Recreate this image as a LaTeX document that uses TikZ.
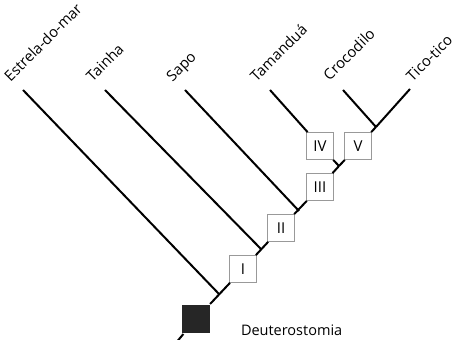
\documentclass[tikz,border=0pt]{standalone}
\usepackage{fontspec}
\setmainfont{Open Sans}
\usetikzlibrary{calc}

\begin{document}
\begin{tikzpicture}[x=1pt,y=1pt,line width=2pt,
    char node/.style={rectangle,draw=black!40,line width=0.8pt,fill=white,minimum size=27pt,inner sep=0pt,font=\fontsize{15}{17}\selectfont},
    root node/.style={rectangle,fill=black!85,minimum size=28pt,inner sep=0pt},
    taxon/.style={rotate=45,anchor=base west,inner sep=0pt,font=\fontsize{14.8}{17}\selectfont}]
  \useasboundingbox (0,0) rectangle (459,340);

  % trunk and characters
  \coordinate (base) at (175,-4);
  \node[root node] (root) at (196,21) {};
  \node[char node] (c1) at (243,71) {I};
  \node[char node] (c2) at (281,112) {II};
  \node[char node] (c3) at (320,153) {III};
  \node[char node] (c4) at (320,194) {IV};
  \node[char node] (c5) at (358,194) {V};

  % branch points and tips
  \coordinate (j1) at (219,46);
  \coordinate (j2) at (261,91);
  \coordinate (j3) at (299,129);
  \coordinate (j4) at (339,174);
  \coordinate (j5) at (376,213);
  \coordinate (t1) at (23,250);
  \coordinate (t2) at (105,250);
  \coordinate (t3) at (185,250);
  \coordinate (t4) at (270,250);
  \coordinate (t5) at (343,250);
  \coordinate (t6) at (410,251);

  \draw (base) -- (root) -- (c1) -- (c2) -- (c3) -- (j4);
  \draw (j1) -- (t1);
  \draw (j2) -- (t2);
  \draw (j3) -- (t3);
  \draw (j4) -- (c4) -- (t4);
  \draw (j4) -- (c5) -- (j5);
  \draw (j5) -- (t5);
  \draw (j5) -- (t6);

  % taxa
  \node[taxon] (l1) at ($(t1)+(-13,7)$) {Estrela-do-mar};
  \node[taxon] (l2) at ($(t2)+(-13,7)$) {Tainha};
  \node[taxon] (l3) at ($(t3)+(-13,7)$) {Sapo};
  \node[taxon] (l4) at ($(t4)+(-14,7)$) {Tamanduá};
  \node[taxon] (l5) at ($(t5)+(-14,8)$) {Crocodilo};
  \node[taxon] (l6) at ($(t6)+(2,6)$) {Tico-tico};

  \node[anchor=base west,inner sep=0pt,font=\fontsize{14.5}{16}\selectfont] (clade) at (240,4) {Deuterostomia};
\end{tikzpicture}
\end{document}
